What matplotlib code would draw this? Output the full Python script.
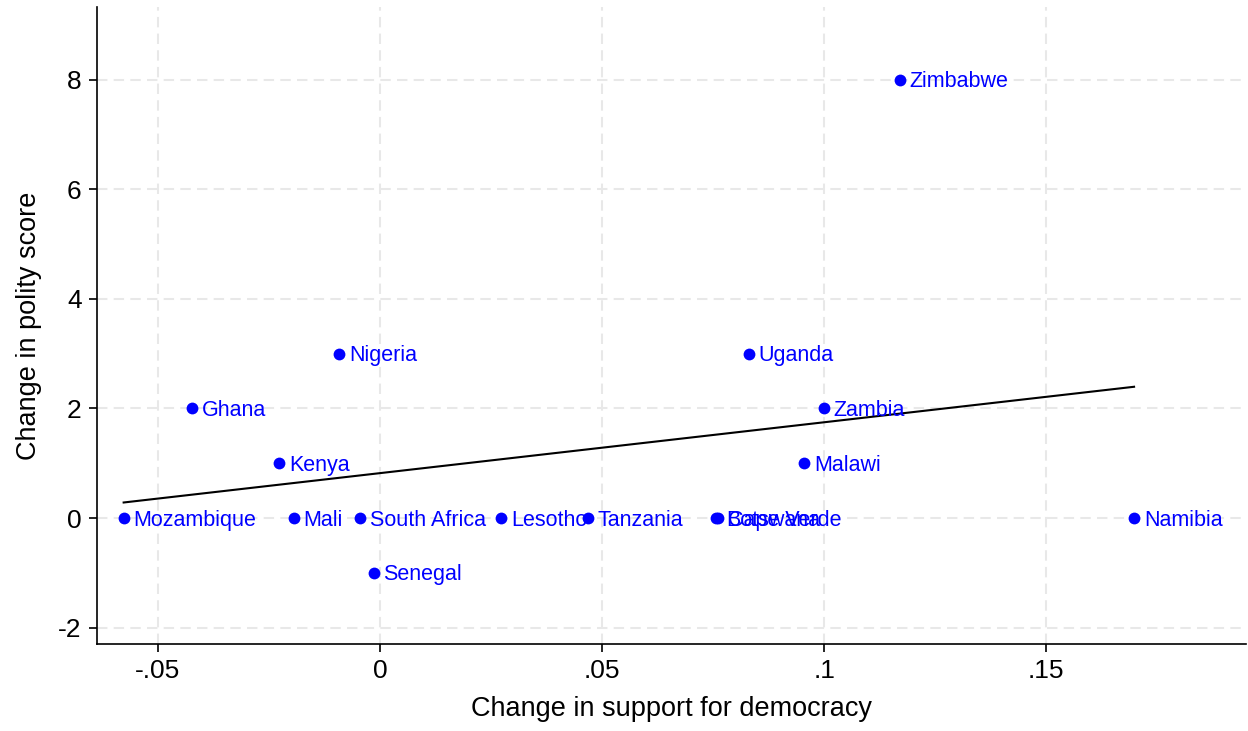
import matplotlib
matplotlib.use("Agg")
import matplotlib.pyplot as plt
import numpy as np

plt.rcParams["font.family"] = ["Liberation Sans", "DejaVu Sans"]

countries = ["Zimbabwe", "Nigeria", "Uganda", "Ghana", "Zambia", "Kenya", "Malawi",
             "Mozambique", "Mali", "South Africa", "Lesotho", "Tanzania",
             "Botswana", "Cape Verde", "Namibia", "Senegal"]
support_change = [0.117, -0.0092, 0.0831, -0.0423, 0.1, -0.0227, 0.0955,
                  -0.0577, -0.0194, -0.0045, 0.0273, 0.0468,
                  0.0757, 0.0761, 0.1698, -0.0014]
polity_change = [8, 3, 3, 2, 2, 1, 1, 0, 0, 0, 0, 0, 0, 0, 0, -1]

x = np.array(support_change)
y = np.array(polity_change)
slope, intercept = np.polyfit(x, y, 1)
xs = np.array([x.min(), x.max()])

fig = plt.figure(figsize=(12.48, 7.31), dpi=100)
ax = fig.add_axes([97 / 1248, 87 / 731, 1149 / 1248, 637 / 731])

ax.plot(xs, intercept + slope * xs, color="black", lw=1.5, zorder=3)
ax.plot(x, y, "o", color="#0000ff", ms=8.5, mec="none", zorder=4)
for name, xi, yi in zip(countries, x, y):
    ax.annotate(name, (xi, yi), xytext=(7, -1.5), textcoords="offset points",
                va="center", ha="left", color="#0000ff", fontsize=15.5, zorder=5)

ax.set_xlim(-0.0637, 0.195)
ax.set_ylim(-2.3, 9.33)
ax.set_xticks([-0.05, 0, 0.05, 0.1, 0.15])
ax.set_xticklabels(["-.05", "0", ".05", ".1", ".15"])
ax.set_yticks([-2, 0, 2, 4, 6, 8])
ax.set_yticklabels(["-2", "0", "2", "4", "6", "8"])
ax.tick_params(length=6, width=1.2, labelsize=19, pad=5)
ax.grid(True, color="#e8e8e8", lw=1.5, ls=(0, (5, 3)))
ax.set_axisbelow(True)
for side in ("top", "right"):
    ax.spines[side].set_visible(False)
for side in ("left", "bottom"):
    ax.spines[side].set_linewidth(1.2)

ax.set_xlabel("Change in support for democracy", fontsize=19.5, labelpad=9)
ax.set_ylabel("Change in polity score", fontsize=19.5, labelpad=12)

fig.savefig("out.png", dpi=100)
